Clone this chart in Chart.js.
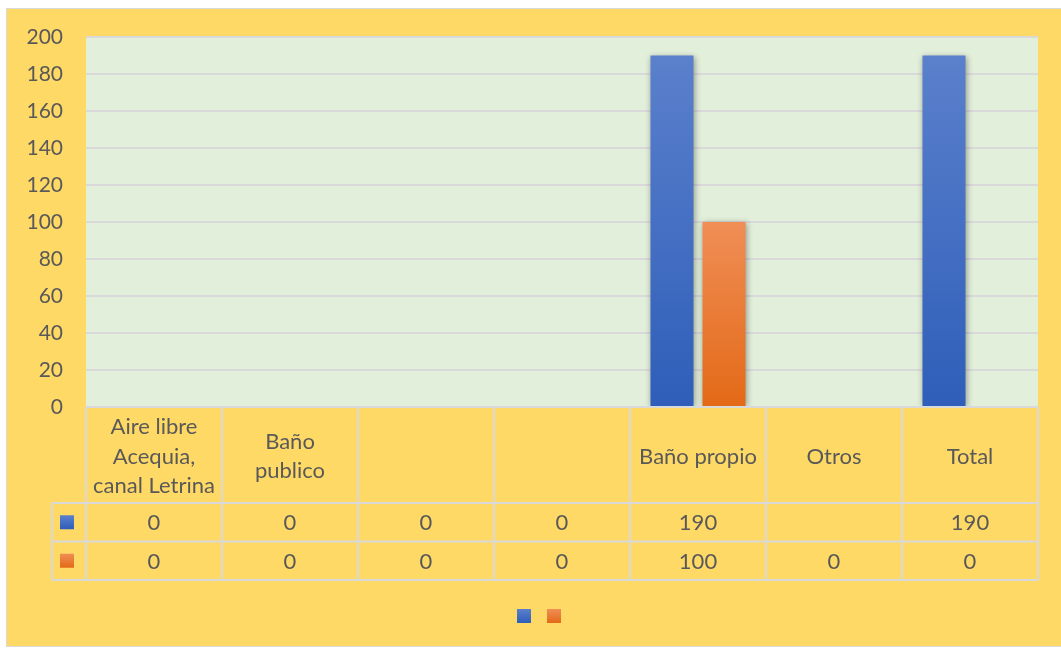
<!DOCTYPE html>
<html>
<head>
<meta charset="utf-8">
<script src="https://cdn.jsdelivr.net/npm/chart.js@4.4.0/dist/chart.umd.min.js"></script>
<style>
  body { margin: 0; width: 1061px; height: 649px; background: #fff; overflow: hidden; }
  #panel { position: absolute; left: 6px; top: 8px; width: 1060px; height: 637px; background: #FFD966; border: 1px solid #D9D9D9; }
  #wrap { position: absolute; left: 0; top: 0; width: 1061px; height: 649px; }
</style>
</head>
<body>
<div id="panel"></div>
<div id="wrap"><canvas id="chart"></canvas></div>
<script>
const categories = [["Aire libre", "Acequia,", "canal Letrina"], ["Baño", "publico"], "", "", "Baño propio", "Otros", "Total"];
const series1 = [0, 0, 0, 0, 190, null, 190];
const series2 = [0, 0, 0, 0, 100, 0, 0];
const yMin = 0;
const yMax = 200;
const yStep = 20;

const textColor = "#595959";
const lineColor = "#D9D9D9";
const fontFamily = "Lato, 'Open Sans', sans-serif";
const blue = ["#5B80CC", "#2E5EB9", "#4472C4"];
const orange = ["#F08E56", "#E36917", "#ED7D31"];

function barFill(top, bottom, solid) {
  return (c) => {
    const chart = c.chart;
    const area = chart.chartArea;
    if (!area || c.type !== "data" || c.raw == null) return solid;
    const y = chart.scales.y;
    const y0 = y.getPixelForValue(0);
    const y1 = y.getPixelForValue(c.raw);
    if (Math.abs(y0 - y1) < 1) return solid;
    const g = chart.ctx.createLinearGradient(0, y1, 0, y0);
    g.addColorStop(0, top);
    g.addColorStop(1, bottom);
    return g;
  };
}

function keyFill(ctx, colors, x, y, s) {
  const g = ctx.createLinearGradient(0, y, 0, y + s);
  g.addColorStop(0, colors[0]);
  g.addColorStop(1, colors[1]);
  ctx.fillStyle = g;
  ctx.fillRect(x, y, s, s);
}

// light green plot background
const plotBg = {
  id: "plotBg",
  beforeDraw(chart) {
    const { ctx, chartArea: a } = chart;
    ctx.save();
    ctx.fillStyle = "#E2EFDA";
    ctx.fillRect(a.left, a.top, a.right - a.left, a.bottom - a.top);
    ctx.restore();
  }
};

// soft shadow behind the bars
const barShadow = {
  id: "barShadow",
  beforeDatasetsDraw(chart) {
    const ctx = chart.ctx;
    ctx.save();
    ctx.shadowColor = "rgba(0,0,0,0.35)";
    ctx.shadowBlur = 6;
    ctx.shadowOffsetX = 1;
    ctx.shadowOffsetY = 1;
  },
  afterDatasetsDraw(chart) {
    chart.ctx.restore();
  }
};

// data table under the plot + legend keys
const dataTable = {
  id: "dataTable",
  afterDraw(chart) {
    const { ctx, chartArea: a, scales } = chart;
    const x = scales.x;
    const n = categories.length;
    const colW = (a.right - a.left) / n;
    const top = a.bottom;
    const headH = 96;
    const rowH = 38.5;
    const keyLeft = a.left - 34;
    const r1 = top + headH;
    const r2 = r1 + rowH;
    const r3 = r2 + rowH;

    ctx.save();
    ctx.strokeStyle = lineColor;
    ctx.lineWidth = 2;
    ctx.beginPath();
    ctx.moveTo(a.left, top); ctx.lineTo(a.right, top);
    [r1, r2, r3].forEach(y => { ctx.moveTo(keyLeft, y); ctx.lineTo(a.right, y); });
    for (let i = 0; i <= n; i++) {
      const xx = a.left + i * colW;
      ctx.moveTo(xx, top); ctx.lineTo(xx, r3);
    }
    ctx.moveTo(keyLeft, r1); ctx.lineTo(keyLeft, r3);
    ctx.stroke();

    ctx.fillStyle = textColor;
    ctx.font = "22px " + fontFamily;
    ctx.textAlign = "center";
    ctx.textBaseline = "middle";
    const lh = 29.5;
    const headMid = top + headH / 2 + 1.5;
    categories.forEach((c, i) => {
      const cx = x.getPixelForValue(i);
      const lines = Array.isArray(c) ? c : [c];
      lines.forEach((t, k) => {
        ctx.fillText(t, cx, headMid + (k - (lines.length - 1) / 2) * lh);
      });
    });

    const rows = [[series1, blue, r1], [series2, orange, r2]];
    rows.forEach(([vals, col, ry]) => {
      const cy = ry + rowH / 2;
      keyFill(ctx, col, keyLeft + 8, cy - 7, 14);
      ctx.fillStyle = textColor;
      vals.forEach((v, i) => {
        if (v == null) return;
        ctx.fillText(String(v), x.getPixelForValue(i), cy + 1);
      });
    });

    // legend (series have no names, only keys)
    const lgY = r3 + 29;
    const lgX = (a.left + a.right) / 2 - 45;
    keyFill(ctx, blue, lgX, lgY, 14);
    keyFill(ctx, orange, lgX + 30, lgY, 14);
    ctx.restore();
  }
};

new Chart(document.getElementById("chart"), {
  type: "bar",
  data: {
    labels: categories,
    datasets: [
      {
        label: "",
        data: series1,
        backgroundColor: barFill(blue[0], blue[1], blue[2]),
        borderWidth: 0
      },
      {
        label: "",
        data: series2,
        backgroundColor: barFill(orange[0], orange[1], orange[2]),
        borderWidth: 0
      }
    ]
  },
  options: {
    responsive: true,
    maintainAspectRatio: false,
    animation: false,
    layout: {
      padding: { left: 0, right: 23, top: 37, bottom: 16 }
    },
    datasets: {
      bar: {
        categoryPercentage: 0.765,
        barPercentage: 0.827
      }
    },
    plugins: {
      legend: { display: false },
      tooltip: { enabled: false }
    },
    scales: {
      x: {
        ticks: { display: false },
        grid: { display: false },
        border: { display: false },
        afterFit(scale) { scale.height = 226; }
      },
      y: {
        min: yMin,
        max: yMax,
        ticks: {
          stepSize: yStep,
          padding: 23,
          color: textColor,
          font: { family: fontFamily, size: 21 }
        },
        grid: { color: lineColor, lineWidth: 2, drawTicks: false },
        border: { display: false },
        afterFit(scale) { scale.width = 86; }
      }
    }
  },
  plugins: [plotBg, barShadow, dataTable]
});
</script>
</body>
</html>
